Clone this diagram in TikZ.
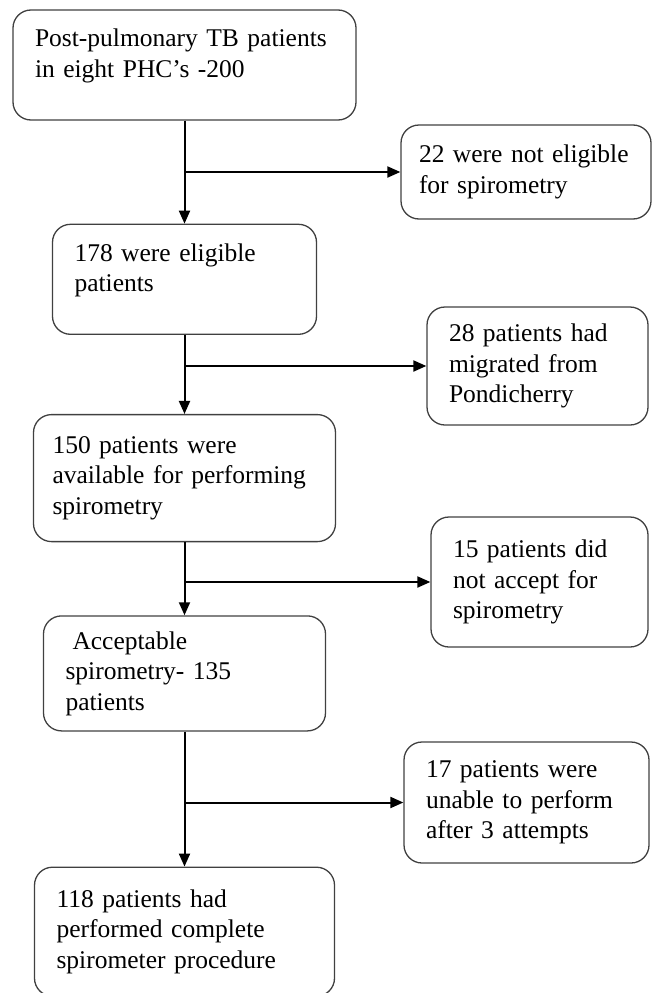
\documentclass[tikz,border=0pt]{standalone}
\usepackage{fontspec}
\setmainfont{Liberation Serif}
\usepackage{tikz}
\usetikzlibrary{shapes,arrows.meta,positioning}

\begin{document}
\begin{tikzpicture}[
    x=1pt, y=1pt,
    box/.style={rectangle, rounded corners=18pt, draw=black!75, line width=1.3pt,
        inner xsep=22pt, inner ysep=4pt, align=left,
        font=\fontsize{25.5}{30.5}\selectfont},
    raised/.style={text depth=54pt},
    arrow/.style={-{Triangle[length=13pt,width=11pt]}, line width=2pt}
]
    \useasboundingbox (0,0) rectangle (651,-993);

    % main column
    \node[box, text width=299pt, minimum height=110pt, raised] (source) at (184.5,-65) {Post-pulmonary TB patients\\in eight PHC's -200};
    \node[box, text width=220pt, minimum height=110pt, raised, below=103pt of source] (eligible) {178 were eligible\\patients};
    \node[box, text width=264pt, inner xsep=19pt, minimum height=127pt, below=79pt of eligible] (available) {150 patients were\\available for performing\\spirometry};
    \node[box, text width=238pt, minimum height=115pt, below=73pt of available] (acceptable) {\hspace*{7pt}Acceptable\\spirometry- 135\\patients};
    \node[box, text width=256pt, minimum height=129pt, below=135pt of acceptable] (complete) {118 patients had\\performed complete\\spirometer procedure};

    % excluded
    \node[box, text width=214pt, inner xsep=18pt, minimum height=94pt] (notelig) at (526,-172) {22 were not eligible\\for spirometry};
    \node[box, text width=177pt, minimum height=118pt] (migrated) at (537.5,-366) {28 patients had\\migrated from\\Pondicherry};
    \node[box, text width=173pt, minimum height=130pt] (notaccept) at (539.5,-582) {15 patients did\\not accept for\\spirometry};
    \node[box, text width=201pt, minimum height=121pt] (unable) at (526.5,-802.5) {17 patients were\\unable to perform\\after 3 attempts};

    \draw[arrow] (source) -- (eligible);
    \draw[arrow] (eligible) -- (available);
    \draw[arrow] (available) -- (acceptable);
    \draw[arrow] (acceptable) -- (complete);

    \draw[arrow] (source.south |- notelig.west) -- (notelig.west);
    \draw[arrow] (eligible.south |- migrated.west) -- (migrated.west);
    \draw[arrow] (available.south |- notaccept.west) -- (notaccept.west);
    \draw[arrow] (acceptable.south |- unable.west) -- (unable.west);
\end{tikzpicture}
\end{document}
